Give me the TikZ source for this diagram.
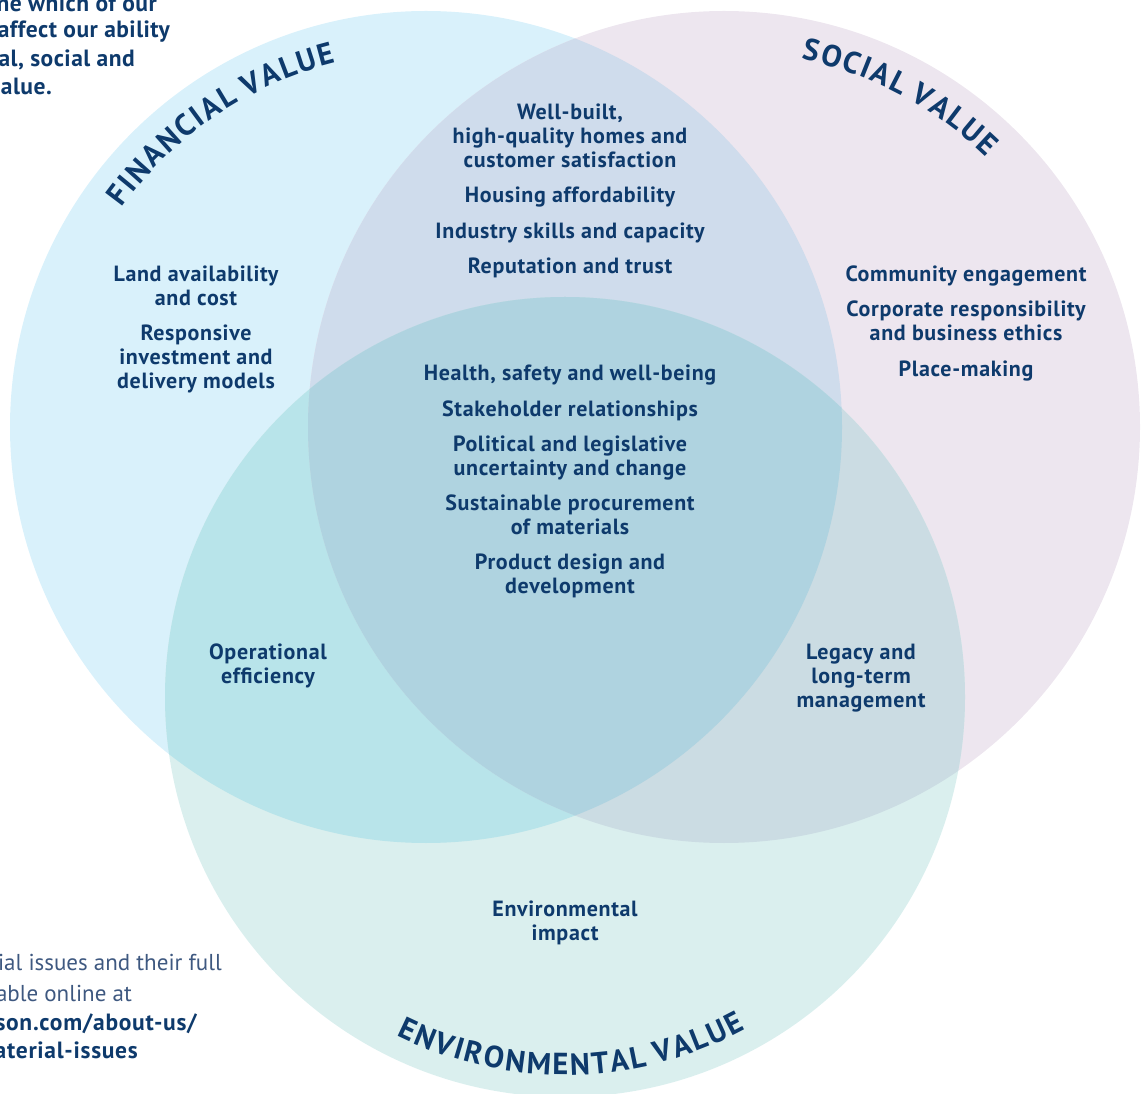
\documentclass[tikz,border=0pt]{standalone}
\usepackage{fontspec}
\setmainfont{PT Sans}
\newfontfamily\titlefont{PT Sans}
\newfontfamily\lblfont{PT Sans}[LetterSpace=3]
\newfontfamily\sidefont{PT Sans}[LetterSpace=2]
\usetikzlibrary{decorations.text,calc}
\definecolor{navy}{RGB}{14,58,108}
\definecolor{greytext}{RGB}{62,88,128}
\definecolor{cF}{RGB}{217,241,251}
\definecolor{cS}{RGB}{237,230,239}
\definecolor{cE}{RGB}{218,239,238}
\definecolor{cFS}{RGB}{207,220,236}
\definecolor{cFE}{RGB}{184,228,234}
\definecolor{cSE}{RGB}{203,220,227}
\definecolor{cFSE}{RGB}{175,211,224}
\newcommand\tkern{\kern2pt}
\tikzset{
  lbl/.style={text=navy, anchor=base, inner sep=0pt, font=\lblfont\fontsize{22}{24}\selectfont\bfseries},
  side/.style={text=navy, anchor=base east, inner sep=0pt, font=\sidefont\fontsize{23.5}{28}\selectfont\bfseries},
  sidelight/.style={text=greytext, anchor=base east, inner sep=0pt, font=\fontsize{23}{29}\selectfont},
  sidebold/.style={text=navy, anchor=base east, inner sep=0pt, font=\lblfont\fontsize{23.5}{29}\selectfont\bfseries},
  arctitle/.style={decorate, decoration={text along path, text align=center, text color=navy}}
}
\newcommand\lbl[4]{\node[lbl] (#1) at (#2,1093-#3) {\begin{tabular}[t]{@{}c@{}}#4\end{tabular}};}
\begin{document}
\begin{tikzpicture}[x=1pt,y=1pt]
\useasboundingbox (0,0) rectangle (1142,1093);
\coordinate (cf) at (426,666);
\coordinate (cs) at (724,666);
\coordinate (ce) at (565,396);
% base circles
\fill[cF] (cf) circle[radius=416pt];
\fill[cS] (cs) circle[radius=416pt];
\fill[cE] (ce) circle[radius=400pt];
% pairwise overlaps
\begin{scope}\clip (cf) circle[radius=416pt]; \fill[cFS] (cs) circle[radius=416pt];\end{scope}
\begin{scope}\clip (cf) circle[radius=416pt]; \fill[cFE] (ce) circle[radius=400pt];\end{scope}
\begin{scope}\clip (cs) circle[radius=416pt]; \fill[cSE] (ce) circle[radius=400pt];\end{scope}
\begin{scope}\clip (cf) circle[radius=416pt]; \clip (cs) circle[radius=416pt]; \fill[cFSE] (ce) circle[radius=400pt];\end{scope}
% curved titles
\path[arctitle, decoration={text={|\titlefont\fontsize{30.5}{30}\selectfont\bfseries|{F\tkern}{I\tkern}{N\tkern}{A\tkern}{N\tkern}{C\tkern}{I\tkern}{A\tkern}{L\tkern} {V\tkern}{A\tkern}{L\tkern}{U\tkern}E}}]
  ($(cf)+(164:375pt)$) arc[start angle=164, end angle=84, radius=375pt];
\path[arctitle, decoration={text={|\titlefont\fontsize{30.5}{30}\selectfont\bfseries|{S\tkern}{O\tkern}{C\tkern}{I\tkern}{A\tkern}{L\tkern} {V\tkern}{A\tkern}{L\tkern}{U\tkern}E}}]
  ($(cs)+(102:376pt)$) arc[start angle=102, end angle=22, radius=376pt];
\path[arctitle, decoration={text={|\titlefont\fontsize{30.5}{30}\selectfont\bfseries|{E\tkern}{N\tkern}{V\tkern}{I\tkern}{R\tkern}{O\tkern}{N\tkern}{M\tkern}{E\tkern}{N\tkern}{T\tkern}{A\tkern}{L\tkern} {V\tkern}{A\tkern}{L\tkern}{U\tkern}E}}]
  ($(ce)+(221:378pt)$) arc[start angle=221, end angle=321, radius=378pt];
% labels
\lbl{wb}{570}{120}{Well-built,\\high-quality homes and\\customer satisfaction}
\lbl{ha}{570}{203}{Housing affordability}
\lbl{isc}{570}{239}{Industry skills and capacity}
\lbl{rt}{570}{274}{Reputation and trust}
\lbl{la}{196}{282}{Land availability\\and cost}
\lbl{ri}{196}{341}{Responsive\\investment and\\delivery models}
\lbl{ce1}{966}{282}{Community engagement}
\lbl{cr}{966}{317}{Corporate responsibility\\and business ethics}
\lbl{pm}{966}{377}{Place-making}
\lbl{hs}{570}{381}{Health, safety and well-being}
\lbl{sr}{570}{417}{Stakeholder relationships}
\lbl{pl}{570}{452}{Political and legislative\\uncertainty and change}
\lbl{sp}{570}{511}{Sustainable procurement\\of materials}
\lbl{pd}{570}{570}{Product design and\\development}
\lbl{oe}{268}{660}{Operational\\efficiency}
\lbl{lt}{861}{660}{Legacy and\\long-term\\management}
\lbl{ei}{565}{916}{Environmental\\impact}
% cut-off side texts
\node[side] (tl1) at (157,1093-12) {ne which of our};
\node[side] (tl2) at (170,1093-38) {affect our ability};
\node[side] (tl3) at (135,1093-67) {al, social and};
\node[side] (tl4) at (52,1093-95) {alue.};
\node[sidelight] (bl1) at (222,1093-970) {ial issues and their full};
\node[sidelight] (bl2) at (132,1093-1001) {able online at};
\node[sidebold] (bl3) at (197,1093-1030) {son.com/about-us/};
\node[sidebold] (bl4) at (138,1093-1058) {aterial-issues};
\end{tikzpicture}
\end{document}
